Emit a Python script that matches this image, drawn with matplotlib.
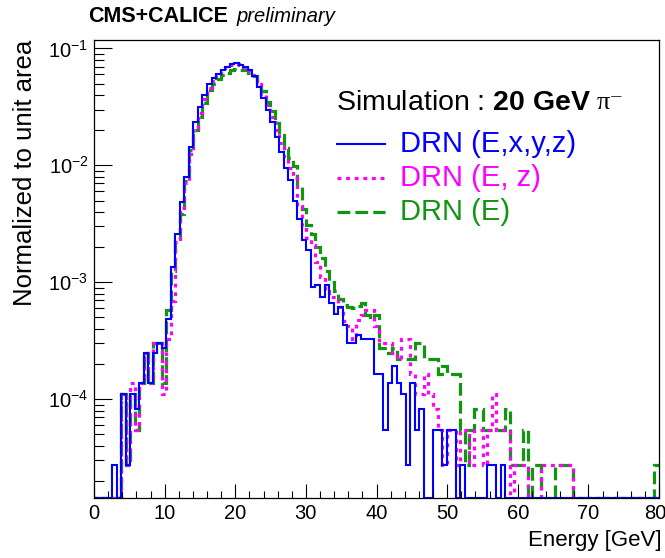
import numpy as np
import matplotlib
matplotlib.use("Agg")
import matplotlib.pyplot as plt
from matplotlib.transforms import ScaledTranslation

plt.rcParams['font.family'] = ['Liberation Sans', 'DejaVu Sans']
plt.rcParams['mathtext.fontset'] = 'custom'
plt.rcParams['mathtext.rm'] = 'Liberation Sans'
plt.rcParams['mathtext.it'] = 'Liberation Sans:italic'
plt.rcParams['mathtext.bf'] = 'Liberation Sans:bold'

# 125 bins from 0 to 80 GeV, normalized to unit area
e_min, e_max, n_bins = 0.0, 80.0, 125

drn_exyz = [
    0, 0, 0, 0, 2.75e-5, 0, 1.1e-4, 2.75e-5, 1.1e-4, 8.2e-5,
    1.37e-4, 2.47e-4, 1.37e-4, 2.47e-4, 3.0e-4, 2.75e-4, 4.85e-4, 1.34e-3, 2.6e-3, 4.9e-3,
    8.0e-3, 0.0144, 0.0236, 0.0316, 0.040, 0.050, 0.056, 0.061, 0.066, 0.070,
    0.074, 0.075, 0.072, 0.070, 0.065, 0.058, 0.047, 0.038, 0.030, 0.0236,
    0.0175, 0.013, 0.0094, 0.0075, 0.0050, 0.0035, 0.0023, 0.0019, 9.2e-4, 9.5e-4,
    7.5e-4, 9.5e-4, 6.6e-4, 5.4e-4, 6.2e-4, 4.3e-4, 3.0e-4, 3.0e-4, 3.55e-4, 3.3e-4,
    3.3e-4, 3.3e-4, 1.65e-4, 1.65e-4, 5.5e-5, 1.37e-4, 1.92e-4, 1.37e-4, 1.1e-4, 2.75e-5,
    1.37e-4, 5.5e-5, 8.2e-5, 0, 0, 5.5e-5, 5.5e-5, 2.75e-5, 5.5e-5, 5.5e-5,
    0, 2.75e-5, 0, 0, 0, 0, 0, 2.75e-5, 2.75e-5, 0,
    2.75e-5, 0, 0, 0, 0, 0, 0, 0, 0, 0,
    0, 0, 0, 0, 0, 0, 0, 0, 0, 0,
    0, 0, 0, 0, 0, 0, 0, 0, 0, 0,
    0, 0, 0, 0, 0,
]

drn_ez = [
    0, 0, 0, 0, 0, 0, 1.1e-4, 2.75e-5, 1.37e-4, 5.5e-5,
    1.37e-4, 2.47e-4, 1.37e-4, 3.0e-4, 3.0e-4, 1.1e-4, 3.3e-4, 6.9e-4, 2.2e-3, 4.3e-3,
    7.0e-3, 0.0125, 0.021, 0.028, 0.037, 0.046, 0.053, 0.059, 0.064, 0.069,
    0.072, 0.074, 0.072, 0.069, 0.065, 0.059, 0.050, 0.041, 0.033, 0.026,
    0.020, 0.0155, 0.0115, 0.0095, 0.0078, 0.0045, 0.0030, 0.0024, 0.0021, 0.0015,
    0.0011, 8.5e-4, 7.5e-4, 7.5e-4, 6.2e-4, 4.7e-4, 4.2e-4, 3.3e-4, 4.8e-4, 5.2e-4,
    5.8e-4, 5.8e-4, 4.2e-4, 3.0e-4, 3.0e-4, 3.0e-4, 2.47e-4, 2.2e-4, 3.3e-4, 3.3e-4,
    1.65e-4, 1.1e-4, 1.1e-4, 1.65e-4, 1.1e-4, 8.2e-5, 5.5e-5, 2.75e-5, 5.5e-5, 5.5e-5,
    2.75e-5, 5.5e-5, 5.5e-5, 2.75e-5, 5.5e-5, 5.5e-5, 2.75e-5, 5.5e-5, 1.1e-4, 5.5e-5,
    5.5e-5, 5.5e-5, 0, 2.75e-5, 2.75e-5, 2.75e-5, 0, 0, 0, 2.75e-5,
    2.75e-5, 2.75e-5, 2.75e-5, 2.75e-5, 2.75e-5, 2.75e-5, 0, 0, 0, 0,
    0, 0, 0, 0, 0, 0, 0, 0, 0, 0,
    0, 0, 0, 0, 0,
]

drn_e = [
    0, 0, 0, 0, 0, 0, 1.1e-4, 2.75e-5, 1.1e-4, 5.5e-5,
    1.37e-4, 2.47e-4, 1.37e-4, 3.0e-4, 3.0e-4, 1.37e-4, 5.8e-4, 1.24e-3, 2.2e-3, 3.8e-3,
    7.4e-3, 0.0135, 0.020, 0.026, 0.034, 0.044, 0.050, 0.055, 0.059, 0.062,
    0.065, 0.067, 0.066, 0.065, 0.062, 0.058, 0.051, 0.043, 0.035, 0.029,
    0.023, 0.018, 0.014, 0.0115, 0.0098, 0.0065, 0.0042, 0.0031, 0.0026, 0.0020,
    0.0016, 0.00125, 0.0010, 8.5e-4, 7.2e-4, 6.4e-4, 6.2e-4, 6.0e-4, 6.3e-4, 6.6e-4,
    5.2e-4, 4.9e-4, 5.2e-4, 2.75e-4, 2.75e-4, 2.47e-4, 2.75e-4, 2.2e-4, 2.2e-4, 2.2e-4,
    2.2e-4, 3.0e-4, 3.0e-4, 2.2e-4, 2.2e-4, 2.2e-4, 1.65e-4, 1.92e-4, 1.65e-4, 1.65e-4,
    1.65e-4, 5.5e-5, 2.75e-5, 5.5e-5, 8.2e-5, 8.2e-5, 5.5e-5, 5.5e-5, 5.5e-5, 5.5e-5,
    5.5e-5, 8.2e-5, 2.75e-5, 2.75e-5, 2.75e-5, 5.5e-5, 0, 2.75e-5, 2.75e-5, 0,
    0, 0, 2.75e-5, 2.75e-5, 2.75e-5, 2.75e-5, 0, 0, 0, 0,
    0, 0, 0, 0, 0, 0, 0, 0, 0, 0,
    0, 0, 0, 0, 2.75e-5,
]

labels = ['DRN (E,x,y,z)', 'DRN (E, z)', 'DRN (E)']
colors = ['#0000ff', '#ff00ff', '#129612']

y_lo, y_hi = 1.43e-5, 0.118
edges = np.linspace(e_min, e_max, n_bins + 1)

fig = plt.figure(figsize=(6.65, 5.58), dpi=100)
ax = fig.add_axes([94 / 665, 1 - 498 / 558, 565 / 665, 458 / 558])
ax.set_yscale('log')

# draw order: green, magenta, blue on top; empty bins sit on the frame like ROOT does
ax.stairs(np.clip(drn_e, y_lo, None), edges, baseline=None, color=colors[2],
          lw=2.3, linestyle=(0, (4.0, 1.6)))
ax.stairs(np.clip(drn_ez, y_lo, None), edges, baseline=None, color=colors[1],
          lw=2.3, linestyle=(0, (1.2, 1.5)))
ax.stairs(np.clip(drn_exyz, y_lo, None), edges, baseline=None, color=colors[0],
          lw=1.5)

ax.set_xlim(e_min, e_max)
ax.set_ylim(y_lo, y_hi)

ax.set_xticks(np.arange(0, 81, 10))
ax.set_xticks(np.arange(0, 81, 2), minor=True)
ax.set_yticks([1e-4, 1e-3, 1e-2, 1e-1])
ax.set_yticklabels([r'$10^{-4}$', r'$10^{-3}$', r'$10^{-2}$', r'$10^{-1}$'])
ax.tick_params(axis='both', which='both', direction='in', top=False, right=False)
ax.tick_params(axis='x', which='major', length=10, width=0.8, labelsize=14.5, pad=4)
ax.tick_params(axis='x', which='minor', length=5, width=0.8)
ax.tick_params(axis='y', which='major', length=13, width=0.8, labelsize=14.5, pad=4)
ax.tick_params(axis='y', which='minor', length=7, width=0.8)
for s in ax.spines.values():
    s.set_linewidth(0.9)

# keep the last x label inside the picture, as ROOT does
last = ax.get_xticklabels()[-1]
last.set_transform(last.get_transform() + ScaledTranslation(-4 / 100, 0, fig.dpi_scale_trans))

ax.set_xlabel('Energy [GeV]', fontsize=16, loc='right')
ax.set_ylabel('Normalized to unit area', fontsize=18.5, loc='top')
ax.yaxis.set_label_coords(-0.1, 1.0)
ax.xaxis.set_label_coords(1.005, -0.07)

fig.text(88 / 665, 1 - 17 / 558, 'CMS+CALICE', fontsize=15.5, fontweight='bold', va='center')
fig.text(236 / 665, 1 - 17 / 558, 'preliminary', fontsize=14.5, style='italic', va='center')

# legend block
ax.text(0.428, 0.862, r'Simulation : $\mathbf{20\ GeV}$', fontsize=20.5,
        transform=ax.transAxes, va='center', ha='left')
ax.text(0.89, 0.862, 'π⁻', fontsize=19, transform=ax.transAxes,
        va='center', ha='left', family=['Liberation Serif', 'DejaVu Serif'])
rows = [0.773, 0.699, 0.624]
styles = ['-', (0, (1.2, 1.5)), (0, (4.0, 1.6))]
widths = [1.5, 2.3, 2.3]
for yy, lab, c, ls, w in zip(rows, labels, colors, styles, widths):
    ax.plot([0.430, 0.515], [yy, yy], transform=ax.transAxes, color=c, ls=ls,
            lw=w, clip_on=False)
    ax.text(0.542, yy, lab, color=c, fontsize=21, transform=ax.transAxes,
            va='center', ha='left')

fig.savefig('out.png', dpi=100)
